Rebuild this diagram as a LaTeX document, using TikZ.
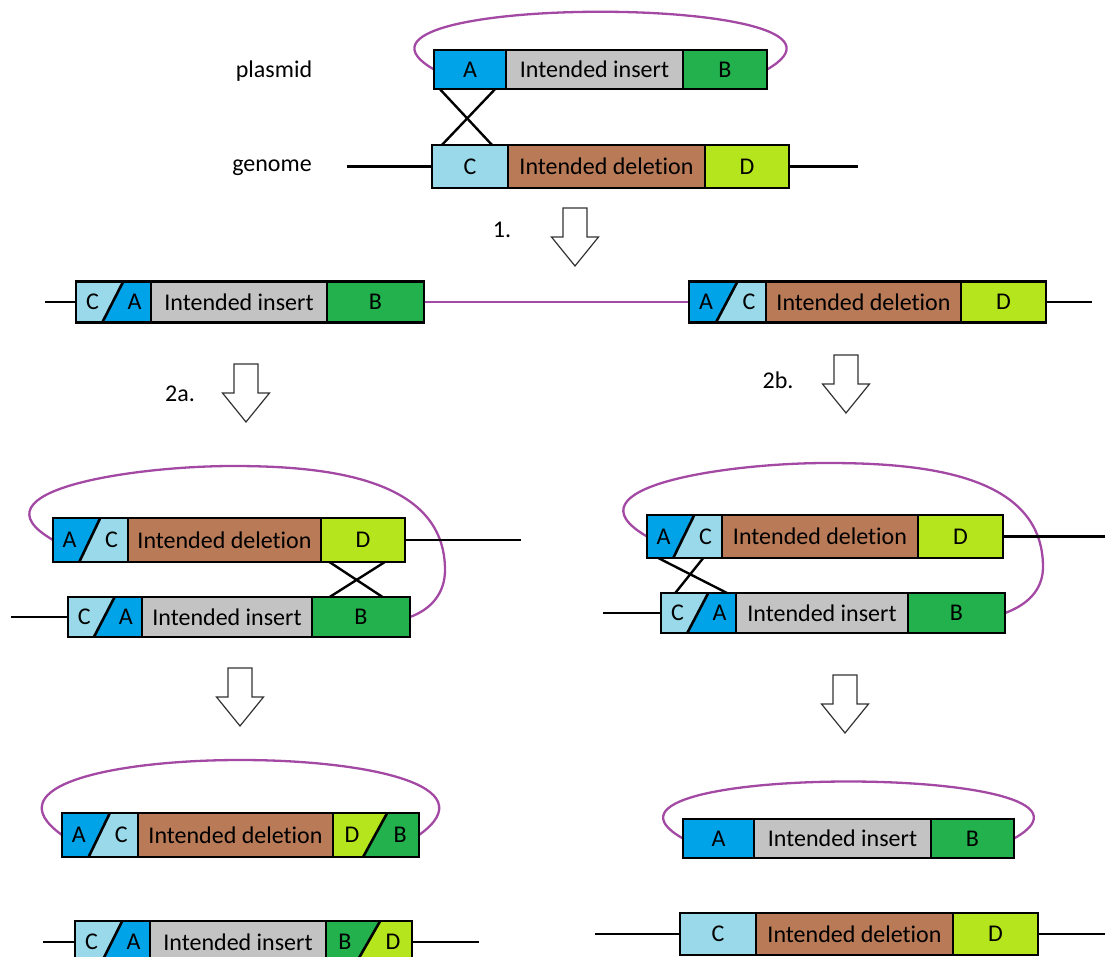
\documentclass[tikz,border=0pt]{standalone}
\usepackage{fontspec}
\setmainfont{Carlito}[Ligatures=NoCommon]
\usetikzlibrary{positioning,calc,backgrounds}

\definecolor{colA}{RGB}{0,162,232}
\definecolor{colC}{RGB}{153,217,234}
\definecolor{colI}{RGB}{195,195,195}
\definecolor{colB}{RGB}{34,177,76}
\definecolor{colDel}{RGB}{185,122,87}
\definecolor{colD}{RGB}{181,230,29}
\definecolor{loopcol}{RGB}{163,73,164}

\newcommand{\boxfont}{\fontsize{24}{29}\selectfont}

\tikzset{
  segbox/.style={draw, line width=2.6pt, inner sep=0pt, outer sep=0pt, minimum height=41pt, font=\boxfont},
  letter/.style={inner sep=0pt, font=\boxfont},
  boxedge/.style={line width=2.6pt},
  chrom/.style={line width=2.6pt},
  loopline/.style={draw=loopcol, line width=2.3pt},
  cross/.style={line width=2.4pt},
  tag/.style={font=\boxfont, anchor=base},
  stepline/.style={draw=black!80, fill=white, line width=1.2pt},
  pics/downstep/.style={code={
    \draw[stepline] (-12,0) -- (12,0) -- (12,-29) -- (23.5,-29) -- (0,-58) -- (-23.5,-29) -- (-12,-29) -- cycle;}}
}

% split segment: node, colour of right part, left letter, right letter
\newcommand{\splitseg}[4]{%
  \fill[#2] ($(#1.south west)!.35!(#1.south east)$) -- ($(#1.north west)!.63!(#1.north east)$) -- (#1.north east) -- (#1.south east) -- cycle;
  \draw[boxedge] ($(#1.south west)!.35!(#1.south east)$) -- ($(#1.north west)!.63!(#1.north east)$);
  \draw[boxedge] (#1.south west) rectangle (#1.north east);
  \node[letter] (#1-l) at ($(#1.west)!.22!(#1.east)$) {#3};
  \node[letter] (#1-r) at ($(#1.west)!.78!(#1.east)$) {#4};
}

\begin{document}
\begin{tikzpicture}[x=1pt,y=1pt]
\useasboundingbox (0,0) rectangle (1105,-957);

% start: plasmid and genome
\node[tag] (plasmid) at (274,-78) {plasmid};
\node[tag] (genome) at (272,-172) {genome};
\node[segbox, fill=colA, minimum width=72, minimum height=39, anchor=west] (pa) at (434,-69.5) {A};
\node[segbox, fill=colI, minimum width=177, minimum height=39, right=0pt of pa] (pins) {Intended insert};
\node[segbox, fill=colB, minimum width=84, minimum height=39, right=0pt of pins] (pb) {B};
\node[segbox, fill=colC, minimum width=76, minimum height=43, anchor=west] (gc) at (432,-166.5) {C};
\node[segbox, fill=colDel, minimum width=197, minimum height=43, right=0pt of gc] (gdel) {Intended deletion};
\node[segbox, fill=colD, minimum width=84, minimum height=43, right=0pt of gdel] (gd) {D};
\coordinate (gl) at (347,-166.5); \coordinate (gr) at (858,-166.5);
\draw[chrom] (gl) -- (gc.west); \draw[chrom] (gd.east) -- (gr);
\draw[cross] ($(pa.south west)!.08!(pa.south east)$) -- ($(gc.north west)!.79!(gc.north east)$);
\draw[cross] ($(pa.south west)!.85!(pa.south east)$) -- ($(gc.north west)!.13!(gc.north east)$);
\begin{scope}[on background layer]
\draw[loopline] (pa.west) .. controls +(-134,77) and +(134,77) .. (pb.east);
\end{scope}

% step 1
\node[tag] (step1) at (502,-238) {1.};
\pic (arr1) at (575,-208) {downstep};

% integrated
\node[segbox, fill=colC, minimum width=75, anchor=west] (lca) at (76,-302) {};
\node[segbox, fill=colI, minimum width=176, right=0pt of lca] (lins) {Intended insert};
\node[segbox, fill=colB, minimum width=97, right=0pt of lins] (lb) {B};
\splitseg{lca}{colA}{C}{A}
\node[segbox, fill=colA, minimum width=77, anchor=west] (rac) at (689,-302) {};
\node[segbox, fill=colDel, minimum width=195, right=0pt of rac] (rdel) {Intended deletion};
\node[segbox, fill=colD, minimum width=85, right=0pt of rdel] (rd) {D};
\splitseg{rac}{colC}{A}{C}
\coordinate (ll) at (45,-302); \coordinate (rr) at (1092,-302);
\draw[chrom] (ll) -- (lca.west); \draw[chrom] (rd.east) -- (rr);
\begin{scope}[on background layer]
\draw[loopline] (lb.east) -- (rac.west);
\end{scope}

% steps 2a, 2b
\node[tag] (step2a) at (180,-401) {2a.};
\pic (arr2a) at (246,-364) {downstep};
\node[tag] (step2b) at (778,-388) {2b.};
\pic (arr2b) at (846,-355) {downstep};

% 2a: crossing at B/D
\node[segbox, fill=colA, minimum width=75, minimum height=44, anchor=west] (aac) at (53,-540) {};
\node[segbox, fill=colDel, minimum width=193, minimum height=44, right=0pt of aac] (adel) {Intended deletion};
\node[segbox, fill=colD, minimum width=84, minimum height=44, right=0pt of adel] (ad) {D};
\splitseg{aac}{colC}{A}{C}
\node[segbox, fill=colC, minimum width=74, minimum height=40, anchor=west] (aca) at (68,-617) {};
\node[segbox, fill=colI, minimum width=170, minimum height=40, right=0pt of aca] (ains) {Intended insert};
\node[segbox, fill=colB, minimum width=98, minimum height=40, right=0pt of ains] (ab) {B};
\splitseg{aca}{colA}{C}{A}
\coordinate (al) at (11,-617); \coordinate (ar) at (521,-540);
\draw[chrom] (al) -- (aca.west); \draw[chrom] (ad.east) -- (ar);
\draw[cross] ($(ad.south west)!.1!(ad.south east)$) -- ($(ab.north west)!.72!(ab.north east)$);
\draw[cross] ($(ad.south west)!.76!(ad.south east)$) -- ($(ab.north west)!.18!(ab.north east)$);
\coordinate (atop) at (233,-466); \coordinate (aright) at (445,-570);
\begin{scope}[on background layer]
\draw[loopline] (aac.west) to[out=150,in=180,looseness=1.3] (atop) to[out=0,in=90] (aright) to[out=-90,in=20] (ab.east);
\end{scope}

% 2b: crossing at A/C
\node[segbox, fill=colA, minimum width=75, minimum height=43, anchor=west] (bac) at (647,-536.5) {};
\node[segbox, fill=colDel, minimum width=196, minimum height=43, right=0pt of bac] (bdel) {Intended deletion};
\node[segbox, fill=colD, minimum width=85, minimum height=43, right=0pt of bdel] (bd) {D};
\splitseg{bac}{colC}{A}{C}
\node[segbox, fill=colC, minimum width=75, minimum height=40, anchor=west] (bca) at (661,-613) {};
\node[segbox, fill=colI, minimum width=172, minimum height=40, right=0pt of bca] (bins) {Intended insert};
\node[segbox, fill=colB, minimum width=97, minimum height=40, right=0pt of bins] (bb) {B};
\splitseg{bca}{colA}{C}{A}
\coordinate (bl) at (603,-613); \coordinate (br) at (1105,-536.5);
\draw[chrom] (bl) -- (bca.west); \draw[chrom] (bd.east) -- (br);
\draw[cross] ($(bac.south west)!.15!(bac.south east)$) -- ($(bca.north west)!.88!(bca.north east)$);
\draw[cross] ($(bac.south west)!.75!(bac.south east)$) -- ($(bca.north west)!.19!(bca.north east)$);
\coordinate (btop) at (827,-463); \coordinate (bright) at (1043,-567);
\begin{scope}[on background layer]
\draw[loopline] (bac.west) to[out=150,in=180,looseness=1.3] (btop) to[out=0,in=90] (bright) to[out=-90,in=20] (bb.east);
\end{scope}

% step 3
\pic (arr3a) at (240,-668) {downstep};
\pic (arr3b) at (845,-675) {downstep};

% result 2a
\node[segbox, fill=colA, minimum width=76, minimum height=44, anchor=west] (cac) at (62,-835) {};
\node[segbox, fill=colDel, minimum width=195, minimum height=44, right=0pt of cac] (cdel) {Intended deletion};
\node[segbox, fill=colD, minimum width=86, minimum height=44, right=0pt of cdel] (cdb) {};
\splitseg{cac}{colC}{A}{C}
\splitseg{cdb}{colB}{D}{B}
\begin{scope}[on background layer]
\draw[loopline] (cac.west) .. controls +(-140,100) and +(140,100) .. (cdb.east);
\end{scope}
\node[segbox, fill=colC, minimum width=75, minimum height=42, anchor=west] (dca) at (75,-942) {};
\node[segbox, fill=colI, minimum width=176, minimum height=42, right=0pt of dca] (dins) {Intended insert};
\node[segbox, fill=colB, minimum width=86, minimum height=42, right=0pt of dins] (dbd) {};
\splitseg{dca}{colA}{C}{A}
\splitseg{dbd}{colD}{B}{D}
\coordinate (dl) at (43,-942); \coordinate (dr) at (479,-942);
\draw[chrom] (dl) -- (dca.west); \draw[chrom] (dbd.east) -- (dr);

% result 2b
\node[segbox, fill=colA, minimum width=71, minimum height=39, anchor=west] (ea) at (683,-838.5) {A};
\node[segbox, fill=colI, minimum width=177, minimum height=39, right=0pt of ea] (eins) {Intended insert};
\node[segbox, fill=colB, minimum width=83, minimum height=39, right=0pt of eins] (eb) {B};
\begin{scope}[on background layer]
\draw[loopline] (ea.west) .. controls +(-135,76) and +(135,76) .. (eb.east);
\end{scope}
\node[segbox, fill=colC, minimum width=76, minimum height=42, anchor=west] (fc) at (680,-934) {C};
\node[segbox, fill=colDel, minimum width=197, minimum height=42, right=0pt of fc] (fdel) {Intended deletion};
\node[segbox, fill=colD, minimum width=85, minimum height=42, right=0pt of fdel] (fd) {D};
\coordinate (fl) at (595,-934); \coordinate (fr) at (1105,-934);
\draw[chrom] (fl) -- (fc.west); \draw[chrom] (fd.east) -- (fr);
\end{tikzpicture}
\end{document}
